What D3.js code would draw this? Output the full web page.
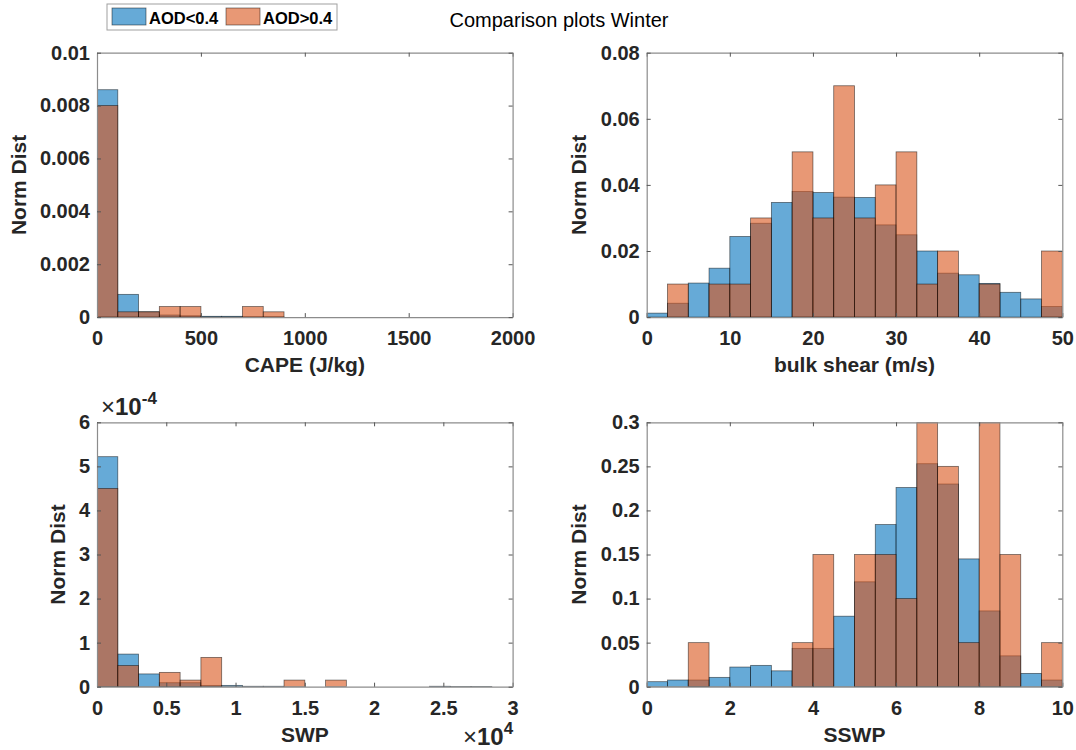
<!DOCTYPE html>
<html>
  <head>
    <title>Comparison plots Winter</title>
    <meta charset="UTF-8" />
    <script src="https://d3js.org/d3.v7.min.js"></script>
    <style>
        body { margin: 0; background: #fff; }
        svg { font-family: "Liberation Sans", Arial, Helvetica, sans-serif; }
        .tick text { font-size: 20px; font-weight: bold; fill: #262626; }
        .lab { font-size: 21px; font-weight: bold; fill: #262626; }
    </style>
  </head>
  <body>
    <script>
        // histogram values, 20 bins per panel
        var capeLow  = [0.0086, 0.00086, 0.0002, 0.00008, 0.00005, 0.00003, 0.00003, 0.00001, 0.00001, 0, 0, 0, 0, 0, 0, 0, 0, 0, 0, 0];
        var capeHigh = [0.0080, 0.0002, 0.0002, 0.0004, 0.0004, 0, 0, 0.0004, 0.0002, 0, 0, 0, 0, 0, 0, 0, 0, 0, 0, 0];

        var shearLow  = [0.0012, 0.0042, 0.0103, 0.0148, 0.0244, 0.0284, 0.0347, 0.038, 0.0377, 0.0363, 0.0362, 0.0279, 0.0249, 0.020, 0.0133, 0.0128, 0.0102, 0.0075, 0.0055, 0.0032];
        var shearHigh = [0, 0.01, 0, 0.01, 0.01, 0.03, 0, 0.05, 0.03, 0.07, 0.03, 0.04, 0.05, 0.01, 0.02, 0, 0.01, 0, 0, 0.02];

        // SWP in units of 1e-4
        var swpLow  = [5.22, 0.74, 0.29, 0.09, 0.09, 0.03, 0.03, 0.01, 0.01, 0, 0, 0, 0, 0, 0, 0, 0.01, 0.005, 0.005, 0];
        var swpHigh = [4.50, 0.48, 0, 0.325, 0.15, 0.665, 0, 0, 0, 0.15, 0, 0.15, 0, 0, 0, 0, 0, 0, 0, 0];

        var sswpLow  = [0.0057, 0.0076, 0.0076, 0.0106, 0.0223, 0.0242, 0.018, 0.0435, 0.0435, 0.080, 0.119, 0.184, 0.226, 0.253, 0.23, 0.145, 0.086, 0.035, 0.0151, 0.0076];
        var sswpHigh = [0, 0, 0.05, 0, 0, 0, 0, 0.05, 0.15, 0, 0.15, 0.15, 0.10, 0.3, 0.25, 0.05, 0.3, 0.15, 0, 0.05];

        var capeXTicks = [0, 500, 1000, 1500, 2000];
        var capeYTicks = [0, 0.002, 0.004, 0.006, 0.008, 0.01];
        var shearXTicks = [0, 10, 20, 30, 40, 50];
        var shearYTicks = [0, 0.02, 0.04, 0.06, 0.08];
        var swpXTicks = [0, 5000, 10000, 15000, 20000, 25000, 30000];
        var swpYTicks = [0, 1, 2, 3, 4, 5, 6];
        var sswpXTicks = [0, 2, 4, 6, 8, 10];
        var sswpYTicks = [0, 0.05, 0.1, 0.15, 0.2, 0.25, 0.3];

        var seriesNames = ["AOD<0.4", "AOD>0.4"];
        var colors = ["#0072bd", "#d95319"];

        var width = 1076, height = 750;
        var svg = d3.select("body").append("svg")
            .attr("width", width)
            .attr("height", height);

        var pw = 415.6, ph = 264.4;

        function panel(cfg) {
            var g = svg.append("g").attr("transform", "translate(" + cfg.left + "," + cfg.top + ")");
            var x = d3.scaleLinear().domain(cfg.xDomain).range([0, pw]);
            var y = d3.scaleLinear().domain(cfg.yDomain).range([ph, 0]);
            var bw = cfg.binWidth;

            var clipId = "clip" + cfg.id;
            g.append("clipPath").attr("id", clipId)
                .append("rect").attr("width", pw).attr("height", ph);

            var bars = g.append("g").attr("clip-path", "url(#" + clipId + ")");
            [cfg.low, cfg.high].forEach(function(vals, k) {
                bars.append("g").selectAll("rect")
                    .data(vals)
                    .join("rect")
                    .attr("x", (d, i) => x(i * bw))
                    .attr("width", (d, i) => x((i + 1) * bw) - x(i * bw))
                    .attr("y", d => y(d))
                    .attr("height", d => ph - y(d))
                    .attr("fill", colors[k])
                    .attr("fill-opacity", 0.6)
                    .attr("stroke", "#000")
                    .attr("stroke-opacity", d => d > 0 ? 0.55 : 0.25)
                    .attr("stroke-width", 0.8);
            });

            var fmtX = cfg.xFormat || (d => d);
            var fmtY = cfg.yFormat || (d => d);

            var ax = [
                g.append("g").attr("transform", "translate(0," + ph + ")")
                    .call(d3.axisBottom(x).tickValues(cfg.xTicks).tickSizeInner(-4).tickSizeOuter(0).tickPadding(14).tickFormat(fmtX)),
                g.append("g")
                    .call(d3.axisTop(x).tickValues(cfg.xTicks).tickSizeInner(-4).tickSizeOuter(0).tickFormat("")),
                g.append("g")
                    .call(d3.axisLeft(y).tickValues(cfg.yTicks).tickSizeInner(-4).tickSizeOuter(0).tickPadding(7).tickFormat(fmtY)),
                g.append("g").attr("transform", "translate(" + pw + ",0)")
                    .call(d3.axisRight(y).tickValues(cfg.yTicks).tickSizeInner(-4).tickSizeOuter(0).tickFormat(""))
            ];
            ax.forEach(function(a) {
                a.select(".domain").attr("stroke", "#8c8c8c").attr("stroke-width", 1.2);
                a.selectAll(".tick line").attr("stroke", "#555");
                a.selectAll(".tick text").attr("font-family", null).attr("font-size", null);
            });

            g.append("text").attr("class", "lab")
                .attr("x", pw / 2).attr("y", ph + 55)
                .attr("text-anchor", "middle")
                .text(cfg.xLabel);
            g.append("text").attr("class", "lab")
                .attr("transform", "translate(" + (cfg.yLabelX) + "," + (ph / 2) + ") rotate(-90)")
                .attr("text-anchor", "middle")
                .text("Norm Dist");
            return g;
        }

        panel({ id: 1, left: 97, top: 52.7, xDomain: [0, 2000], yDomain: [0, 0.01], binWidth: 100,
            low: capeLow, high: capeHigh, xTicks: capeXTicks, yTicks: capeYTicks,
            xLabel: "CAPE (J/kg)", yLabelX: -71 });

        panel({ id: 2, left: 646.7, top: 52.7, xDomain: [0, 50], yDomain: [0, 0.08], binWidth: 2.5,
            low: shearLow, high: shearHigh, xTicks: shearXTicks, yTicks: shearYTicks,
            xLabel: "bulk shear (m/s)", yLabelX: -61 });

        var p3 = panel({ id: 3, left: 97, top: 422.3, xDomain: [0, 30000], yDomain: [0, 6], binWidth: 1500,
            low: swpLow, high: swpHigh, xTicks: swpXTicks, yTicks: swpYTicks,
            xFormat: d => d / 10000, xLabel: "SWP", yLabelX: -32 });

        panel({ id: 4, left: 646.7, top: 422.3, xDomain: [0, 10], yDomain: [0, 0.3], binWidth: 0.5,
            low: sswpLow, high: sswpHigh, xTicks: sswpXTicks, yTicks: sswpYTicks,
            xLabel: "SSWP", yLabelX: -61 });

        // exponent labels for SWP panel
        var e1 = p3.append("text").attr("x", 4).attr("y", -7).attr("fill", "#262626");
        e1.append("tspan").attr("font-size", 24).text("\u00d7");
        e1.append("tspan").attr("font-size", 24).attr("font-weight", "bold").text("10");
        e1.append("tspan").attr("font-size", 17).attr("font-weight", "bold").attr("dy", -11).text("-4");

        var e2 = p3.append("text").attr("x", 366).attr("y", ph + 58).attr("fill", "#262626");
        e2.append("tspan").attr("font-size", 24).text("\u00d7");
        e2.append("tspan").attr("font-size", 24).attr("font-weight", "bold").text("10");
        e2.append("tspan").attr("font-size", 17).attr("font-weight", "bold").attr("dy", -11).text("4");

        // legend
        var lg = svg.append("g").attr("transform", "translate(107,4)");
        lg.append("rect").attr("width", 230).attr("height", 26)
            .attr("fill", "#fff").attr("stroke", "#a0a0a0").attr("stroke-width", 1);
        var legX = [5, 119];
        seriesNames.forEach(function(name, k) {
            lg.append("rect").attr("x", legX[k]).attr("y", 4).attr("width", 34).attr("height", 17)
                .attr("fill", colors[k]).attr("fill-opacity", 0.6)
                .attr("stroke", "#000").attr("stroke-opacity", 0.55).attr("stroke-width", 0.8);
            lg.append("text").attr("x", legX[k] + 37).attr("y", 19.5)
                .attr("font-size", 16.5).attr("font-weight", "bold").attr("fill", "#000")
                .text(name);
        });

        svg.append("text").attr("x", 559).attr("y", 27)
            .attr("text-anchor", "middle")
            .attr("font-size", 20).attr("fill", "#000")
            .text("Comparison plots Winter");
    </script>
  </body>
</html>
